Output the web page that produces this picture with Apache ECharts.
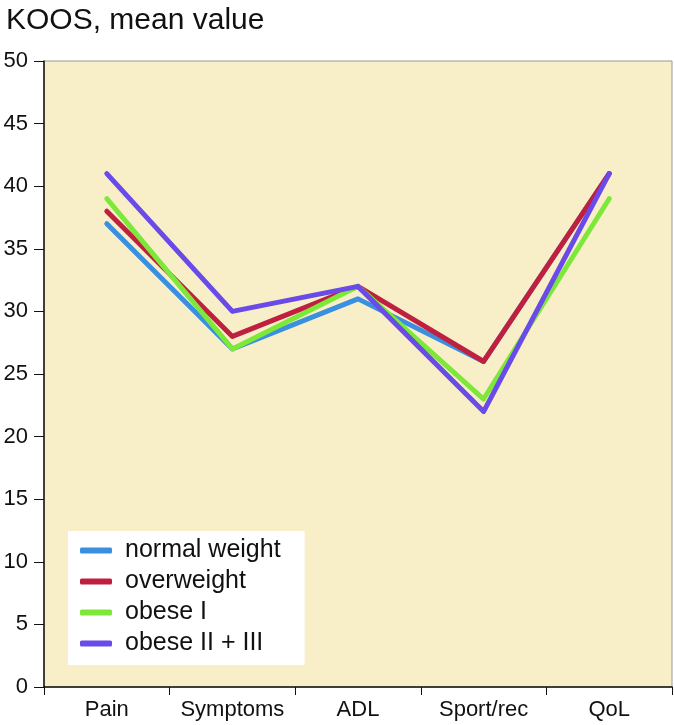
<!DOCTYPE html>
<html><head><meta charset="utf-8">
<script src="https://cdn.jsdelivr.net/npm/echarts@6/dist/echarts.min.js"></script>
<style>html,body{margin:0;padding:0;background:#fff}#c{width:674px;height:725px}</style>
</head><body><div id="c"></div>
<script>
var categories = ['Pain', 'Symptoms', 'ADL', 'Sport/rec', 'QoL'];
var seriesNames = ['normal weight', 'overweight', 'obese I', 'obese II + III'];
var normalWeight = [37, 27, 31, 26, 41];
var overweight = [38, 28, 32, 26, 41];
var obeseI = [39, 27, 32, 23, 39];
var obeseII = [41, 30, 32, 22, 41];
var colors = ['#3a8fe0', '#c0203f', '#7de83a', '#6a4ae8'];
var data = [normalWeight, overweight, obeseI, obeseII];
var font = 'Liberation Sans, Arial, Helvetica, sans-serif';
var chart = echarts.init(document.getElementById('c'));
chart.setOption({
  animation: false,
  title: {text: 'KOOS, mean value', left: 1, top: 1, textStyle: {fontFamily: font, fontSize: 30, fontWeight: 'normal', color: '#111'}},
  grid: {left: 44, right: 2, top: 61, bottom: 38, show: true, backgroundColor: '#f8efc9', borderColor: '#999', borderWidth: 1},
  legend: {
    orient: 'vertical', left: 68, top: 531,
    backgroundColor: '#fff', padding: [7, 24, 9, 12], itemGap: 6,
    itemWidth: 32, itemHeight: 6, icon: 'roundRect',
    textStyle: {fontFamily: font, fontSize: 25, color: '#111', padding: [0, 0, 0, 8]},
    data: seriesNames
  },
  xAxis: {
    type: 'category', data: categories, boundaryGap: true,
    axisLine: {lineStyle: {color: '#111', width: 1.5}},
    axisTick: {show: true, length: 8, interval: 0, lineStyle: {color: '#111'}},
    axisLabel: {fontFamily: font, fontSize: 22, color: '#111', margin: 12, interval: 0, hideOverlap: false}
  },
  yAxis: {
    type: 'value', min: 0, max: 50, interval: 5,
    axisLine: {show: true, lineStyle: {color: '#111', width: 1.5}},
    axisTick: {show: true, length: 10, lineStyle: {color: '#111'}},
    splitLine: {show: false},
    axisLabel: {fontFamily: font, fontSize: 22, color: '#111', margin: 16}
  },
  series: data.map(function (d, i) {
    return {name: seriesNames[i], type: 'line', data: d, symbol: 'none',
      lineStyle: {width: 5, color: colors[i], cap: 'round', join: 'round'}, itemStyle: {color: colors[i]}};
  })
});
</script></body></html>
